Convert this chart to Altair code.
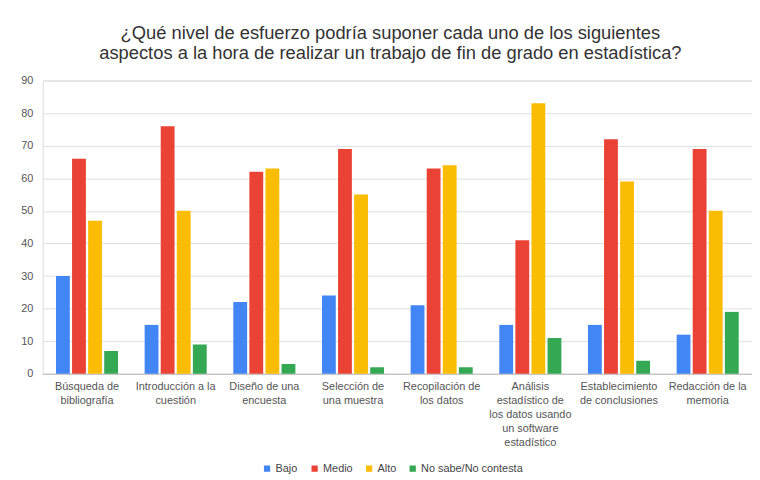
import altair as alt
import pandas as pd

categories = [
    "Búsqueda de\nbibliografía",
    "Introducción a la\ncuestión",
    "Diseño de una\nencuesta",
    "Selección de\nuna muestra",
    "Recopilación de\nlos datos",
    "Análisis\nestadístico de\nlos datos usando\nun software\nestadístico",
    "Establecimiento\nde conclusiones",
    "Redacción de la\nmemoria",
]
series = ["Bajo", "Medio", "Alto", "No sabe/No contesta"]
bajo = [30, 15, 22, 24, 21, 15, 15, 12]
medio = [66, 76, 62, 69, 63, 41, 72, 69]
alto = [47, 50, 63, 55, 64, 83, 59, 50]
nsnc = [7, 9, 3, 2, 2, 11, 4, 19]
colors = ["#4285F4", "#EA4335", "#FBBC04", "#34A853"]

rows = []
for name, vals in zip(series, [bajo, medio, alto, nsnc]):
    for c, v in zip(categories, vals):
        rows.append({"cat": c, "serie": name, "valor": v})
df = pd.DataFrame(rows)

chart = alt.Chart(df).mark_bar().encode(
    x=alt.X("cat:N", sort=categories, title=None,
            scale=alt.Scale(paddingInner=0.3, paddingOuter=0.15),
            axis=alt.Axis(labelAngle=0, labelExpr="split(datum.label, '\\n')",
                          labelFontSize=11, labelColor="#555555", labelLineHeight=14,
                          labelPadding=7, ticks=False, domain=True, domainColor="#bbbbbb",
                          labelFont="Liberation Sans", labelLimit=200)),
    xOffset=alt.XOffset("serie:N", sort=series, scale=alt.Scale(paddingInner=0.14)),
    y=alt.Y("valor:Q", title=None,
            scale=alt.Scale(domain=[0, 90], nice=False),
            axis=alt.Axis(values=list(range(0, 91, 10)), ticks=False, domain=False,
                          labelFontSize=11, labelColor="#555555", labelPadding=10,
                          gridColor="#e0e0e0", labelFont="Liberation Sans")),
    color=alt.Color("serie:N", sort=series,
                    scale=alt.Scale(domain=series, range=colors),
                    legend=alt.Legend(title=None, orient="none", direction="horizontal",
                                      legendX=221, legendY=386,
                                      symbolType="square", symbolSize=40, labelFontSize=11,
                                      labelColor="#444444", labelFont="Liberation Sans",
                                      labelOffset=3, columnPadding=11, symbolStrokeWidth=0)),
).properties(
    width=716,
    height=296,
    title=alt.TitleParams(
        ["¿Qué nivel de esfuerzo podría suponer cada uno de los siguientes",
         "aspectos a la hora de realizar un trabajo de fin de grado en estadística?"],
        fontSize=18.5, font="Liberation Sans", fontWeight="normal", color="#333333",
        anchor="middle", offset=12, lineHeight=20, dx=-7),
    padding={"left": 12, "right": 0, "top": 14, "bottom": 5},
).configure_view(stroke=None).configure(background="white")

chart.save("out.html", embed_options={"renderer": "svg", "actions": False})
